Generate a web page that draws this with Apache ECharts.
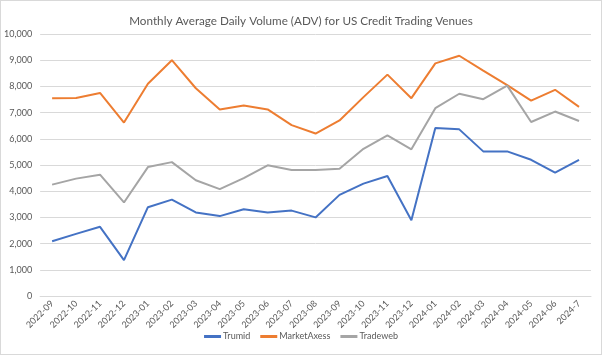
<!DOCTYPE html>
<html><head><meta charset="utf-8">
<script src="https://cdn.jsdelivr.net/npm/echarts@6/dist/echarts.min.js"></script>
<style>html,body{margin:0;padding:0;background:#fff}#c{width:602px;height:355px;box-sizing:border-box;border:1px solid #d9d9d9}</style>
</head><body><div id="c"></div>
<script>
const categories = ['2022-09','2022-10','2022-11','2022-12','2023-01','2023-02','2023-03','2023-04','2023-05','2023-06','2023-07','2023-08','2023-09','2023-10','2023-11','2023-12','2024-01','2024-02','2024-03','2024-04','2024-05','2024-06','2024-7'];
const trumid = [2090,2370,2640,1370,3390,3680,3190,3050,3310,3190,3260,3000,3860,4290,4580,2890,6410,6360,5520,5520,5200,4710,5200];
const marketAxess = [7550,7560,7750,6620,8100,9000,7930,7120,7270,7120,6520,6200,6700,7590,8450,7550,8880,9170,8600,8050,7460,7870,7220];
const tradeweb = [4250,4480,4630,3570,4920,5110,4420,4080,4500,4990,4810,4810,4860,5620,6130,5600,7170,7720,7510,8030,6640,7040,6680];
const yTicks = {min:0, max:10000, interval:1000};

const chart = echarts.init(document.getElementById('c'), null, {renderer:'canvas'});
const font = 'Lato, "Open Sans", sans-serif';
function s(name, data, color){
  return {name, type:'line', data, symbol:'none', lineStyle:{width:2, color}, itemStyle:{color}};
}
chart.setOption({
  animation:false,
  title:{text:'Monthly Average Daily Volume (ADV) for US Credit Trading Venues', left:'center', top:9,
    textStyle:{fontFamily:font, fontSize:11.7, fontWeight:'normal', color:'#595959'}},
  grid:{left:35, right:10, top:33, bottom:58},
  legend:{bottom:8, left:'center', itemWidth:17, itemHeight:3, itemGap:10, icon:'rect',
    textStyle:{fontFamily:font, fontSize:9, color:'#595959', padding:[0,0,0,-3]}},
  xAxis:{type:'category', data:categories, boundaryGap:true,
    axisLine:{lineStyle:{color:'#d9d9d9'}}, axisTick:{show:false},
    axisLabel:{rotate:45, interval:0, fontFamily:font, fontSize:9, color:'#595959', margin:6}},
  yAxis:{type:'value', min:yTicks.min, max:yTicks.max, interval:yTicks.interval,
    axisLine:{show:false}, axisTick:{show:false},
    splitLine:{lineStyle:{color:'#d9d9d9'}},
    axisLabel:{fontFamily:font, fontSize:9, color:'#595959', margin:8,
      formatter:v=>v.toLocaleString('en-US')}},
  series:[s('Trumid', trumid, '#4472C4'), s('MarketAxess', marketAxess, '#ED7D31'), s('Tradeweb', tradeweb, '#A5A5A5')]
});
</script></body></html>
